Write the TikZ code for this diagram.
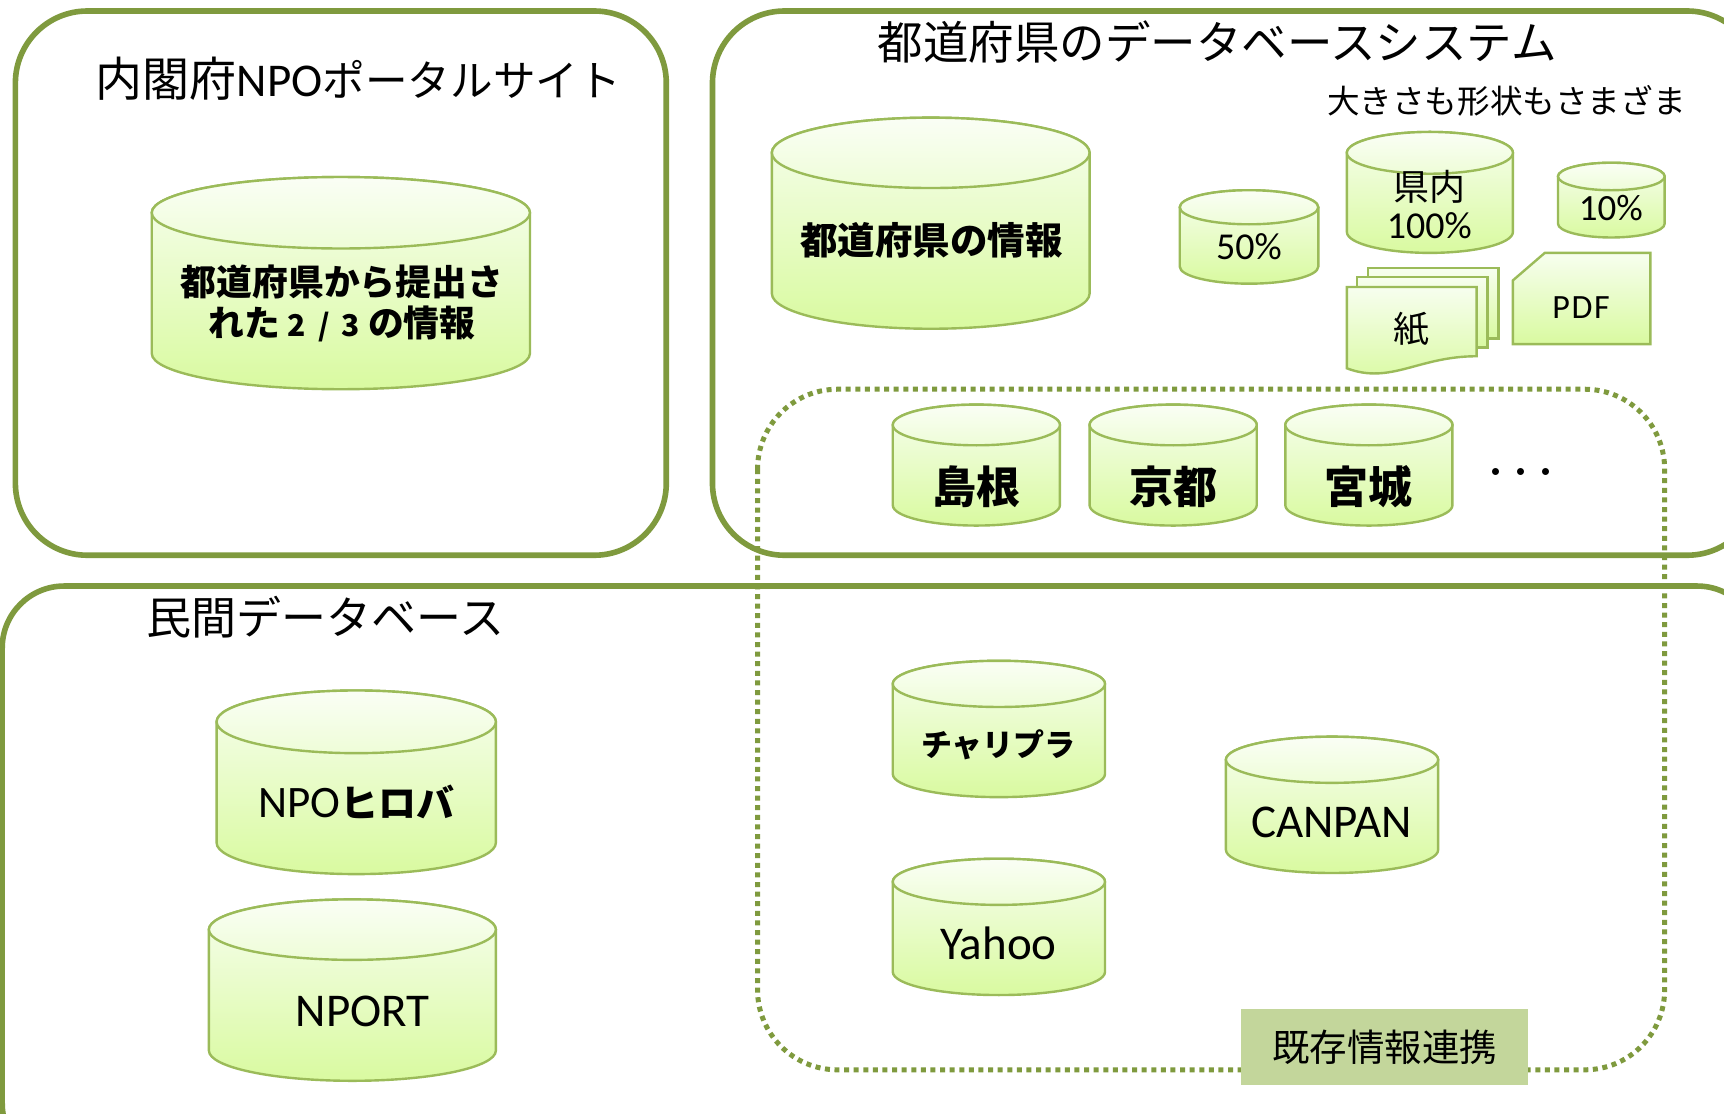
\documentclass[tikz,border=0pt]{standalone}
\usepackage{fontspec}
\setmainfont{Carlito}
\newfontfamily\cjk{Noto Sans CJK JP}
\newcommand{\fsz}[1]{\fontsize{#1}{#1}\selectfont}
\definecolor{panelgreen}{HTML}{7F9A3E}
\definecolor{cylline}{HTML}{9BBB59}
\definecolor{cyltop}{HTML}{F7FEEF}
\definecolor{cylbot}{HTML}{D9FAA0}
\definecolor{tagfill}{HTML}{C3D69B}
\tikzset{
  panel/.style={draw=panelgreen,line width=5.6pt,rounded corners=72pt},
  dotbox/.style={draw=panelgreen,line width=5pt,dash pattern=on 5pt off 4.6pt,rounded corners=80pt},
  shapeline/.style={draw=cylline,line width=2.4pt,top color=cyltop,bottom color=cylbot,shading angle=0},
  lbl/.style={inner sep=0pt,align=center,text=black}
}
\newcommand{\cyl}[9]{%
  \pgfmathsetmacro{\crx}{(#4-#2)/2*1.0995}%
  \pgfmathsetmacro{\cry}{(#6-#3)/2*1.0995}%
  \pgfmathsetmacro{\cmy}{(#6+#3)/2}%
  \pgfmathsetmacro{\cby}{#5-(#6-#3)/2}%
  \pgfmathsetmacro{\cmx}{(#2+#4)/2}%
  \shade[shapeline] (#2,\cmy) -- (#2,\cby) arc[start angle=180,end angle=360,x radius=\crx pt,y radius=\cry pt] -- (#4,\cmy) arc[start angle=0,end angle=180,x radius=\crx pt,y radius=\cry pt] -- cycle;
  \shade[shapeline,top color=cyltop!60!white,bottom color=cyltop!70!cylbot] (\cmx,\cmy) ellipse[x radius=\crx pt,y radius=\cry pt];
  \node[lbl] (#1) at (#7,#8) {#9};
}
\begin{document}
\begin{tikzpicture}[x=1.0995pt,y=-1.0995pt]
\useasboundingbox (0,0) rectangle (1568,1012.3);
\clip (0,0) rectangle (1568,1012.3);
\fill[white] (0,0) rectangle (1568,1012.3);
% panels
\draw[panel] (14,10) rectangle (606,505);
\draw[panel] (648,10) rectangle (1600,505);
\draw[panel,rounded corners=62pt] (2,533) rectangle (1600,1060);
\draw[dotbox] (689,354) rectangle (1514,973);
% titles
\node[lbl] (t1) at (326,71.5) {\fsz{47}{\cjk 内閣府}NPO\fsz{42.6}{\cjk ポータルサイト}};
\node[lbl] (t2) at (1107,38) {\fsz{45.5}\cjk 都道府県のデータベースシステム};
\node[lbl] (t3) at (1370,92) {\fsz{32.6}\cjk 大きさも形状もさまざま};
\node[lbl] (t4) at (296,561) {\fsz{45}\cjk 民間データベース};
% cylinders
\cyl{naikaku}{138}{161}{482}{354}{226}{311}{276}{\fsz{35.8}\cjk\bfseries 都道府県から提出さ\\[6pt]\fsz{35.8}\cjk\bfseries れた\hspace{8pt}\fontsize{30}{30}\selectfont 2\hspace{12pt}/\hspace{12pt}3\hspace{8pt}\fsz{35.8}の情報}
\cyl{pref}{702}{107}{991}{299}{171}{847}{219}{\fsz{37.5}\cjk\bfseries 都道府県の情報}
\cyl{fifty}{1073}{173}{1199}{258}{204}{1136}{224}{\fsz{38}50\%}
\cyl{kennai}{1225}{120}{1376}{230}{158}{1300}{186}{\fsz{36}{\cjk 県内}\\[8pt]\fsz{38}100\%}
\cyl{ten}{1417}{148}{1514}{216}{173}{1465}{189}{\fsz{37}10\%}
\cyl{shimane}{812}{368}{964}{478}{405}{888}{443}{\fsz{44}\cjk\bfseries 島根}
\cyl{kyoto}{991}{368}{1143}{478}{405}{1067}{443}{\fsz{44}\cjk\bfseries 京都}
\cyl{miyagi}{1169}{368}{1321}{478}{405}{1245}{443}{\fsz{44}\cjk\bfseries 宮城}
\cyl{npohiroba}{197}{628}{451}{795}{685}{324}{729}{\fsz{45}NPO{\fsz{38}\cjk\bfseries ヒロバ}}
\cyl{nport}{190}{818}{451}{983}{873}{330}{920}{\fsz{47}NPORT}
\cyl{chari}{812}{601}{1005}{725}{643}{908}{677}{\fsz{31}\cjk\bfseries チャリプラ}
\cyl{yahoo}{812}{781}{1005}{905}{823}{908}{858}{\fsz{47}Yahoo}
\cyl{canpan}{1115}{670}{1308}{794}{712}{1211}{748}{\fsz{47}CANPAN}
\node[lbl] (dots) at (1383,432) {\fsz{25}\cjk\bfseries ・・・};
% paper stack
\shade[shapeline] (1244,244) -- (1363,244) -- (1363,308) -- (1244,308) -- cycle;
\shade[shapeline] (1234,252) -- (1353,252) -- (1353,316) -- (1234,316) -- cycle;
\shade[shapeline] (1225,261) -- (1343,261) -- (1343,324) .. controls (1290,324) and (1265,350) .. (1225,335) -- cycle;
\node[lbl] (paper) at (1284,299) {\fsz{36}\cjk 紙};
% pdf
\shade[shapeline] (1376,255) -- (1405,230) -- (1501,230) -- (1501,313) -- (1376,313) -- cycle;
\node[lbl] (pdf) at (1438,280) {\fsz{34}\addfontfeature{LetterSpace=5}PDF};
% tag
\node[fill=tagfill,minimum width=287pt,minimum height=76pt,inner sep=0pt] (tag) at (1259.5,952.5) {\fsz{37.5}\cjk 既存情報連携};
\end{tikzpicture}
\end{document}
